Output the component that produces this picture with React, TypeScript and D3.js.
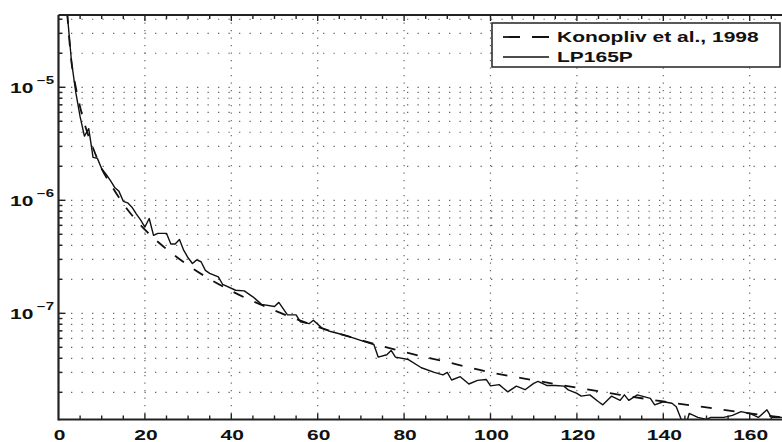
import React, { useEffect, useRef } from 'react';
import * as d3 from 'd3';

const W = 782;
const H = 442;

// Konopliv et al., 1998 (dashed)
const konDeg = [2, 3, 4, 5, 6, 8, 10, 12, 15, 20, 25, 30, 40, 50, 60, 70, 80, 90, 100, 110, 120, 130, 140, 150, 160, 170];
const konVal = [4.6e-5, 1.68e-5, 1.0e-5, 6.7e-6, 4.8e-6, 2.9e-6, 1.9e-6, 1.4e-6, 9.3e-7, 5.5e-7, 3.7e-7, 2.66e-7, 1.58e-7, 1.06e-7, 7.6e-8, 5.8e-8, 4.55e-8, 3.7e-8, 3.0e-8, 2.56e-8, 2.2e-8, 1.9e-8, 1.66e-8, 1.47e-8, 1.3e-8, 1.17e-8];

// LP165P (solid)
const lpDeg = [2, 3, 4, 5, 6, 7, 8, 9, 10, 11, 12, 13, 14, 15, 16, 17, 18, 19, 20, 21, 22, 23, 25, 26, 27, 28, 29, 30, 31, 32, 33, 34, 35, 37, 38, 41, 43, 45, 47, 50, 51, 53, 55, 56, 58, 59, 61, 63, 65, 68, 71, 73, 74, 76, 77, 78, 81, 84, 87, 89, 90, 91, 93, 95, 97, 99, 100, 102, 103, 104, 106, 108, 110, 111, 113, 115, 117, 118, 120, 121, 123, 125, 126, 128, 130, 131, 132, 134, 137, 138, 140, 142, 143, 145, 146, 148, 150, 151, 154, 156, 158, 160, 162, 164, 165, 168];
const lpVal = [4.6e-5, 1.7e-5, 9.0e-6, 5.5e-6, 3.7e-6, 4.3e-6, 2.4e-6, 2.35e-6, 1.9e-6, 1.7e-6, 1.5e-6, 1.3e-6, 1.2e-6, 9.8e-7, 9.5e-7, 8.7e-7, 7.6e-7, 6.7e-7, 5.8e-7, 6.9e-7, 4.9e-7, 5.1e-7, 5.1e-7, 4.1e-7, 4.1e-7, 4.5e-7, 3.6e-7, 3.1e-7, 2.76e-7, 2.97e-7, 2.86e-7, 2.4e-7, 2.26e-7, 2.1e-7, 1.8e-7, 1.6e-7, 1.58e-7, 1.4e-7, 1.2e-7, 1.15e-7, 1.25e-7, 9.7e-8, 9.7e-8, 8.4e-8, 8.1e-8, 8.7e-8, 7.4e-8, 6.9e-8, 6.6e-8, 6.1e-8, 5.6e-8, 5.3e-8, 4.1e-8, 4.3e-8, 4.7e-8, 4.1e-8, 3.9e-8, 3.3e-8, 3.0e-8, 2.85e-8, 3.0e-8, 2.57e-8, 2.75e-8, 2.37e-8, 2.55e-8, 2.6e-8, 2.28e-8, 2.34e-8, 2.17e-8, 2.02e-8, 2.27e-8, 2.11e-8, 2.4e-8, 2.5e-8, 2.3e-8, 2.3e-8, 2.27e-8, 2.1e-8, 1.96e-8, 1.85e-8, 1.9e-8, 1.65e-8, 1.55e-8, 1.85e-8, 1.7e-8, 1.9e-8, 1.7e-8, 1.9e-8, 1.77e-8, 1.55e-8, 1.65e-8, 1.6e-8, 1.49e-8, 0.95e-8, 1.3e-8, 1.2e-8, 1.15e-8, 1.2e-8, 1.2e-8, 1.25e-8, 1.35e-8, 1.3e-8, 1.2e-8, 1.4e-8, 1.2e-8, 1.2e-8];

const xTicks = [0, 20, 40, 60, 80, 100, 120, 140, 160];
const xTickLabels = ['0', '20', '40', '60', '80', '100', '120', '140', '160'];
const yTicks = [1e-5, 1e-6, 1e-7];
const yTickExp = ['\u22125', '\u22126', '\u22127'];
const legendLabels = ['Konopliv et al., 1998', 'LP165P'];

const FONT = '"Liberation Sans", Arial, Helvetica, sans-serif';
const SX = 1.5; // the figure's text is stretched horizontally

export default function App() {
  const svgRef = useRef<SVGSVGElement | null>(null);

  useEffect(() => {
    const svg = d3.select(svgRef.current);
    svg.selectAll('*').remove();

    const left = 58.5, top = 15, bottom = 419.5;
    const x = d3.scaleLinear().domain([0, 170]).range([left, left + 170 * 4.32]);
    const y = d3.scaleLog().domain([1.15e-8, 4.36e-5]).range([bottom, top]);

    svg.append('defs').append('clipPath').attr('id', 'plotclip')
      .append('rect').attr('x', left).attr('y', top).attr('width', W - left).attr('height', bottom - top);

    // grid: horizontal dotted lines at every decade sub-tick
    const yGrid: number[] = [];
    for (let e = -9; e <= -4; e++) {
      for (let m = 1; m <= 9; m++) {
        const v = m * Math.pow(10, e);
        if (v >= 1.15e-8 && v <= 4.36e-5) yGrid.push(v);
      }
    }
    const grid = svg.append('g');
    grid.selectAll('line.h').data(yGrid).enter().append('line')
      .attr('x1', left + 2).attr('x2', W)
      .attr('y1', (d) => y(d)).attr('y2', (d) => y(d))
      .attr('stroke', '#666').attr('stroke-width', 1.2)
      .attr('stroke-dasharray', '1.3 9.2');
    grid.selectAll('line.v').data(xTicks.filter((d) => d > 0)).enter().append('line')
      .attr('x1', (d) => x(d)).attr('x2', (d) => x(d))
      .attr('y1', top).attr('y2', bottom)
      .attr('stroke', '#666').attr('stroke-width', 1.2)
      .attr('stroke-dasharray', '1.3 6.2');

    // curves
    const plot = svg.append('g').attr('clip-path', 'url(#plotclip)');
    const konLine = d3.line<number>()
      .x((_, i) => x(konDeg[i]))
      .y((d) => y(d))
      .curve(d3.curveMonotoneX);
    plot.append('path').attr('d', konLine(konVal))
      .attr('fill', 'none').attr('stroke', '#111').attr('stroke-width', 1.8)
      .attr('stroke-dasharray', '11 12');
    const lpLine = d3.line<number>()
      .x((_, i) => x(lpDeg[i]))
      .y((d) => y(d));
    plot.append('path').attr('d', lpLine(lpVal))
      .attr('fill', 'none').attr('stroke', '#111').attr('stroke-width', 1.4)
      .attr('stroke-linejoin', 'round');

    // axes box
    const ax = svg.append('g').attr('stroke', '#222');
    ax.append('line').attr('x1', left).attr('x2', left).attr('y1', top).attr('y2', bottom + 1).attr('stroke-width', 2.2);
    ax.append('line').attr('x1', left).attr('x2', W).attr('y1', bottom).attr('y2', bottom).attr('stroke-width', 2.2);
    ax.append('line').attr('x1', left).attr('x2', W).attr('y1', top).attr('y2', top).attr('stroke-width', 1.8);

    // x ticks every 5
    const xMinor = d3.range(5, 171, 5);
    ax.selectAll('line.xb').data(xMinor).enter().append('line')
      .attr('x1', (d) => x(d)).attr('x2', (d) => x(d))
      .attr('y1', bottom).attr('y2', (d) => bottom - (d % 20 === 0 ? 6 : 4))
      .attr('stroke-width', 1.4);
    ax.selectAll('line.xt').data(xMinor).enter().append('line')
      .attr('x1', (d) => x(d)).attr('x2', (d) => x(d))
      .attr('y1', top).attr('y2', (d) => top + (d % 20 === 0 ? 6 : 4))
      .attr('stroke-width', 1.4);

    // y ticks
    ax.selectAll('line.yt').data(yGrid).enter().append('line')
      .attr('x1', left).attr('x2', (d) => left + (Math.abs(Math.log10(d) - Math.round(Math.log10(d))) < 1e-9 ? 7 : 4))
      .attr('y1', (d) => y(d)).attr('y2', (d) => y(d))
      .attr('stroke-width', 1.4);

    // x labels
    svg.selectAll('text.xl').data(xTicks).enter().append('text')
      .attr('transform', (d) => `translate(${x(d) + 1},439.5) scale(${SX},1)`)
      .attr('text-anchor', 'middle')
      .attr('font-family', FONT).attr('font-weight', 'bold').attr('font-size', 14)
      .attr('fill', '#111')
      .text((_, i) => xTickLabels[i]);

    // y labels: 10^exp
    const yl = svg.selectAll('g.yl').data(yTicks).enter().append('g');
    yl.append('text')
      .attr('transform', (d) => `translate(10,${y(d) + 5.5}) scale(${SX},1)`)
      .attr('font-family', FONT).attr('font-weight', 'bold').attr('font-size', 14)
      .attr('fill', '#111')
      .text('10');
    yl.append('text')
      .attr('transform', (d) => `translate(37,${y(d) - 3}) scale(${SX},1)`)
      .attr('font-family', FONT).attr('font-weight', 'bold').attr('font-size', 10)
      .attr('fill', '#111')
      .text((_, i) => yTickExp[i]);

    // legend
    const lg = svg.append('g');
    lg.append('rect').attr('x', 492).attr('y', 23).attr('width', 288).attr('height', 44)
      .attr('fill', '#fff').attr('stroke', '#222').attr('stroke-width', 1.5);
    lg.append('line').attr('x1', 503).attr('x2', 549).attr('y1', 37).attr('y2', 37)
      .attr('stroke', '#111').attr('stroke-width', 1.8).attr('stroke-dasharray', '17 12');
    lg.append('line').attr('x1', 503).attr('x2', 549).attr('y1', 57).attr('y2', 57)
      .attr('stroke', '#111').attr('stroke-width', 1.4);
    lg.selectAll('text').data(legendLabels).enter().append('text')
      .attr('transform', (_, i) => `translate(557,${42 + i * 20}) scale(${SX},1)`)
      .attr('font-family', FONT).attr('font-weight', 'bold').attr('font-size', 14)
      .attr('fill', '#111')
      .text((d) => d);
  }, []);

  return (
    <svg ref={svgRef} width={W} height={H}
      style={{ position: 'absolute', left: 0, top: 0, background: '#fff', display: 'block' }} />
  );
}
